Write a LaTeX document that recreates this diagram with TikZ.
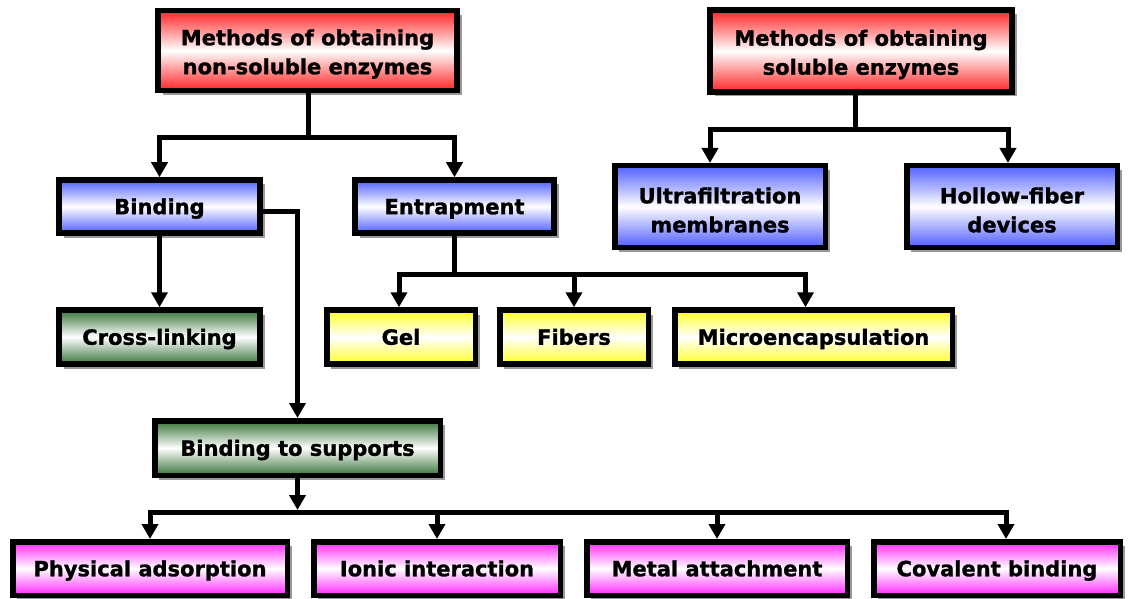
\documentclass[tikz,border=0pt]{standalone}
\usepackage{fontspec}
\setmainfont{DejaVu Sans}[BoldFeatures={FakeBold=1.2}]
\usetikzlibrary{arrows.meta,positioning,shadows}
\definecolor{redA}{RGB}{255,35,35}
\definecolor{blueA}{RGB}{80,95,255}
\definecolor{greenA}{RGB}{55,115,55}
\definecolor{yellowA}{RGB}{255,255,40}
\definecolor{pinkA}{RGB}{255,40,255}
\newcommand{\lowr}{\rule{0pt}{23pt}}
\begin{document}
\begin{tikzpicture}[
  x=1pt,y=-1pt,
  n/.style={draw,line width=5.5pt,align=center,inner sep=2pt,
    font=\bfseries\fontsize{21}{29}\selectfont,
    drop shadow={shadow xshift=4.5pt,shadow yshift=-4.5pt,fill=black!40,opacity=1}},
  one/.style={text height=15.5pt,text depth=0pt},
  shade/.style={top color=#1,bottom color=#1,middle color=white},
  rd/.style={n,shade=redA},
  bl/.style={n,shade=blueA},
  gr/.style={n,one,shade=greenA},
  yl/.style={n,one,shade=yellowA},
  pk/.style={n,one,shade=pinkA},
  ln/.style={line width=5pt},
  arr/.style={ln,-{Triangle[length=15pt,width=16pt]}}
]
\useasboundingbox (0,0) rectangle (1133,599);

% top level
\node[rd,minimum width=299pt,minimum height=80pt] (insol) at (307.5,50.5) {\lowr Methods of obtaining\\non-soluble enzymes};
\node[rd,minimum width=302pt,minimum height=82pt] (sol) at (861,51) {\lowr Methods of obtaining\\soluble enzymes};

% second level
\node[bl,one,minimum width=201pt,minimum height=53pt] (bind) at (159.5,206.5) {Binding};
\node[bl,one,minimum width=199pt,minimum height=53pt] (entr) at (454.5,206.5) {Entrapment};
\node[bl,minimum width=210.5pt,minimum height=81.5pt] (ultra) at (720,206.5) {\lowr Ultrafiltration\\membranes};
\node[bl,minimum width=210.5pt,minimum height=81.5pt] (hollow) at (1012,206.5) {\lowr Hollow-fiber\\devices};

% third level
\node[gr,minimum width=201pt,minimum height=54pt] (cross) at (159.5,337) {Cross-linking};
\node[yl,minimum width=148.5pt,minimum height=54pt] (gel) at (401,337) {Gel};
\node[yl,minimum width=148.5pt,minimum height=54pt] (fib) at (574,337) {Fibers};
\node[yl,minimum width=277.5pt,minimum height=54pt] (micro) at (813.5,337) {Microencapsulation};

\node[gr,minimum width=285.5pt,minimum height=54.5pt] (sup) at (297.5,448) {Binding to supports};

% bottom row
\node[pk,minimum width=274.5pt,minimum height=53.5pt] (phys) at (150,568.5) {Physical adsorption};
\node[pk,minimum width=246.5pt,minimum height=53.5pt] (ion) at (437,568.5) {Ionic interaction};
\node[pk,minimum width=260.5pt,minimum height=53.5pt] (metal) at (717,568.5) {Metal attachment};
\node[pk,minimum width=246.5pt,minimum height=53.5pt] (cov) at (997,568.5) {Covalent binding};

% connectors
\coordinate (j1) at (308,138);
\draw[ln] (insol.south -| j1) -- (j1);
\draw[arr] (j1) -| (bind.north);
\draw[arr] (j1) -| (entr.north);

\coordinate (j2) at (855,130);
\draw[ln] (sol.south -| j2) -- (j2);
\draw[arr] (j2) -| ([xshift=-10pt]ultra.north);
\draw[arr] (j2) -| ([xshift=-4pt]hollow.north);

\draw[arr] (bind.south) -- (cross.north);
\draw[arr] ([yshift=-5pt]bind.east) -| (sup.north);

\coordinate (j3) at (454.5,274);
\draw[ln] (entr.south) -- (j3);
\draw[arr] (j3) -| ([xshift=-2pt]gel.north);
\draw[arr] (j3) -| (fib.north);
\draw[arr] (j3) -| ([xshift=-8pt]micro.north);

\coordinate (j4) at (297.5,512);
\draw[arr] (sup.south) -- ([yshift=2pt]j4);
\draw[arr] (j4) -| (phys.north);
\draw[arr] (j4) -| (ion.north);
\draw[arr] (j4) -| (metal.north);
\draw[arr] (j4) -| ([xshift=9pt]cov.north);
\end{tikzpicture}
\end{document}
